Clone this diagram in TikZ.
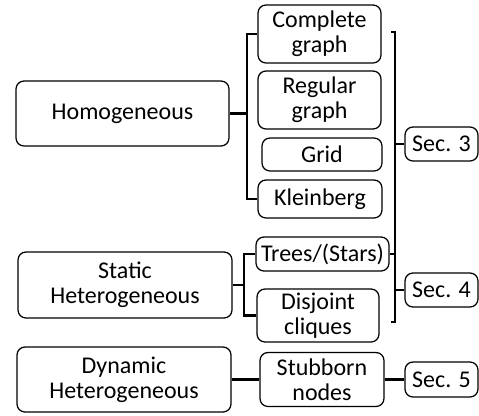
\documentclass[tikz,border=0pt]{standalone}
\usepackage{fontspec}
\setmainfont{Carlito}

\tikzset{every picture/.style={line width=0.75pt}}
\tikzset{
  box/.style={draw, line width=0.95pt, rounded corners=6pt, align=center, inner sep=0pt, font=\fontsize{18}{19}\selectfont},
  brace/.style={line width=2pt}
}

\begin{document}
\begin{tikzpicture}[x=0.75pt,y=0.75pt,yscale=-1,xscale=1]
%set diagram left start at 0, and has height of 415
\useasboundingbox (0,0) rectangle (479,415);
% Rounded Rect
\draw (122.5,113.5) node [box, minimum width=159.75pt, minimum height=48.75pt] (homog) {Homogeneous};
% Rounded Rect
\draw (125,285) node [box, minimum width=160.5pt, minimum height=49.5pt] (static) {Static\\Heterogeneous};
% Rounded Rect
\draw (124,379.5) node [box, minimum width=160.5pt, minimum height=48.75pt] (dynam) {Dynamic\\Heterogeneous};
% Rounded Rect
\draw (319.5,34) node [box, minimum width=92.25pt, minimum height=43.5pt] (compl) {Complete\\graph};
% Rounded Rect
\draw (319.5,100) node [box, minimum width=92.25pt, minimum height=43.5pt] (regul) {Regular\\graph};
% Rounded Rect
\draw (322,154.5) node [box, minimum width=90pt, minimum height=24.75pt] (grid) {Grid};
% Rounded Rect
\draw (320,199) node [box, minimum width=93pt, minimum height=28.5pt] (klein) {Kleinberg};
% Rounded Rect
\draw (322.5,254) node [box, minimum width=99.75pt, minimum height=25.5pt] (trees) {Trees/(Stars)};
% Rounded Rect
\draw (318,315.5) node [box, minimum width=91.5pt, minimum height=39.75pt] (disj) {Disjoint\\cliques};
% Rounded Rect
\draw (322,379.5) node [box, minimum width=93pt, minimum height=40.5pt] (stub) {Stubborn\\nodes};
% Rounded Rect
\draw (441.5,144) node [box, minimum width=54.75pt, minimum height=25.5pt] (sec3) {Sec. 3};
% Rounded Rect
\draw (441.5,290) node [box, minimum width=54.75pt, minimum height=25.5pt] (sec4) {Sec. 4};
% Rounded Rect
\draw (441.5,379.5) node [box, minimum width=54.75pt, minimum height=26.25pt] (sec5) {Sec. 5};

%Homogeneous bracket
\coordinate (hb) at (247,113.5);
\draw [brace] (homog.east) -- (hb);
\draw [brace] (compl.west) -| (hb) |- (klein.west);
%Static bracket
\coordinate (sb) at (244,285);
\draw [brace] (static.east) -- (sb);
\draw [brace] (trees.west) -| (sb) |- (disj.west);
%Dynamic line
\draw [brace] (dynam.east) -- (stub.west);
\draw [brace] (stub.east) -- (sec5.west);
%Section brackets
\coordinate (rtop) at (391,32);
\coordinate (rbot) at (391,322);
\coordinate (rx) at (395,254);
\draw [brace] (rtop) -| (rx) |- (rbot);
\draw [brace] (trees.east) -- (trees.east -| rx);
\draw [brace] (sec3.west) -- (sec3.west -| rx);
\draw [brace] (sec4.west) -- (sec4.west -| rx);
\end{tikzpicture}
\end{document}
